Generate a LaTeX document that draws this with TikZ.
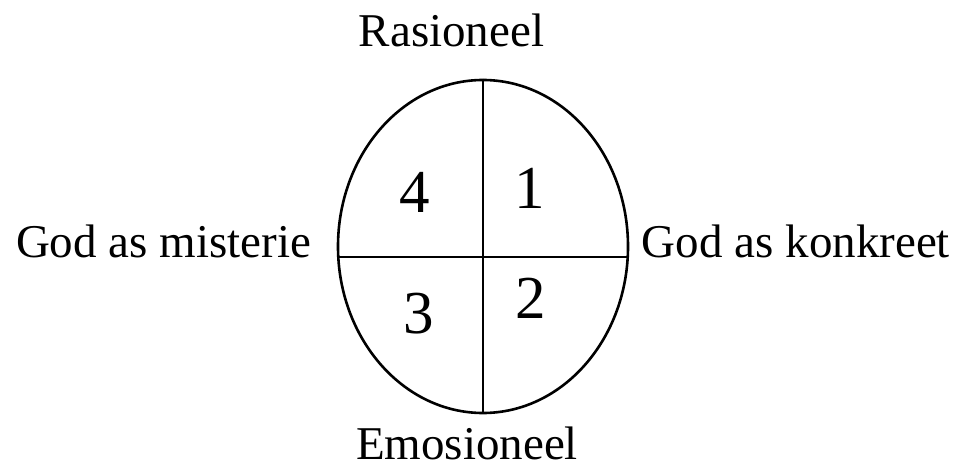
\documentclass[tikz,border=0pt]{standalone}
\usepackage{fontspec}
\setmainfont{Liberation Serif}
\usetikzlibrary{shapes.geometric}
\begin{document}
\begin{tikzpicture}[x=1pt,y=-1pt,
  lbl/.style={inner sep=0pt, anchor=base, font=\fontsize{47}{50}\selectfont},
  num/.style={inner sep=0pt, anchor=base, font=\fontsize{61}{64}\selectfont},
  rule/.style={line width=2.6pt}]
\useasboundingbox (0,0) rectangle (961,465);
\node[draw, ellipse, rule, inner sep=0pt, minimum width=290pt, minimum height=333pt] (oval) at (483,246.5) {};
\coordinate (hl) at (338.4,257);
\coordinate (hr) at (627.6,257);
\draw[rule] (oval.north) -- (oval.south);
\draw[rule, line width=2.2pt] (hl) -- (hr);
\node[lbl] (rat) at (451.5,47) {Rasioneel};
\node[lbl] (emo) at (467,459) {Emosioneel};
\node[lbl] (mis) at (163.5,258) {God as misterie};
\node[lbl] (kon) at (796,258) {God as konkreet};
\node[num] (n4) at (414.5,213) {4};
\node[num] (n1) at (530,208) {1};
\node[num] (n3) at (418.5,333) {3};
\node[num] (n2) at (531,318) {2};
\end{tikzpicture}
\end{document}
